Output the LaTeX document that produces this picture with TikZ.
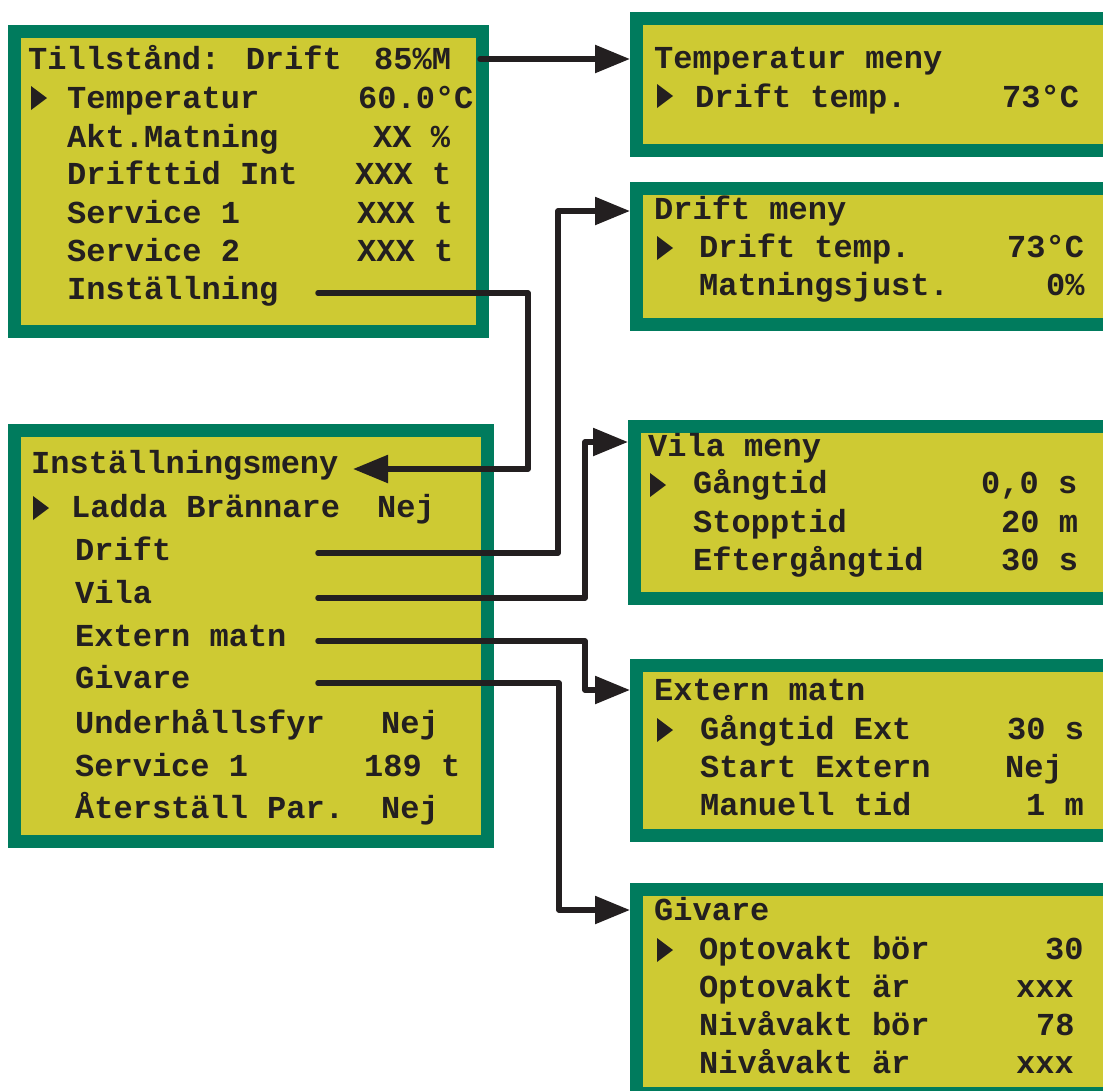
\documentclass[tikz,border=0pt]{standalone}
\usepackage{fontspec}
\newfontfamily\lcdfont{Liberation Mono}
\usetikzlibrary{arrows.meta}
\definecolor{lcdgreen}{RGB}{0, 123, 93}
\definecolor{lcdyellow}{RGB}{206, 202, 51}
\definecolor{ink}{RGB}{35, 31, 32}
% cursor marker in front of the selected row
\newcommand{\cursor}[2]{\fill[ink] (#1,#2-12) -- (#1+16,#2) -- (#1,#2+12) -- cycle;}

\begin{document}
\begin{tikzpicture}[x=1pt, y=-1pt,
    lcd/.style={draw=lcdgreen, fill=lcdyellow, line width=13pt, inner sep=0pt, anchor=north west},
    txt/.style={anchor=base west, inner sep=0pt, text=ink,
                font=\lcdfont\bfseries\fontsize{32}{36}\selectfont},
    link/.style={draw=ink, line width=5.5pt, line cap=round, line join=round,
                 -{Triangle[length=35pt, width=27pt]}}]
    \clip (0,0) rectangle (1103,1090);

    % screens
    \node[lcd, minimum width=468pt, minimum height=300pt] (main) at (8,25) {};
    \node[lcd, minimum width=473pt, minimum height=411pt] (inst) at (8,424) {};
    \node[lcd, minimum width=477pt, minimum height=132pt] (temp) at (630,12) {};
    \node[lcd, minimum width=477pt, minimum height=136pt] (drift) at (630,182) {};
    \node[lcd, minimum width=479pt, minimum height=172pt] (vila) at (628,420) {};
    \node[lcd, minimum width=477pt, minimum height=170pt] (ext) at (630,659) {};
    \node[lcd, minimum width=477pt, minimum height=204pt] (giv) at (630,883) {};

    % main screen
    \node[txt] (main-t) at (28,69) {Tillstånd: Drift};
    \node[txt] (main-tv) at (374,69) {85\%M};
    \foreach \n/\yy/\lab/\vx/\val in {1/108/Temperatur/358/60.0°C, 2/147/Akt.Matning/373/XX \%,
        3/184/Drifttid Int/355/XXX t, 4/223/Service 1/357/XXX t, 5/261/Service 2/357/XXX t}{
        \node[txt] (main-l\n) at (67,\yy) {\lab};
        \node[txt] (main-v\n) at (\vx,\yy) {\val};
    }
    \node[txt] (main-l6) at (67,299) {Inställning};
    \cursor{31}{98}

    % settings screen
    \node[txt] (inst-t) at (31,473) {Inställningsmeny};
    \node[txt] (inst-l1) at (71,517) {Ladda Brännare};
    \node[txt] (inst-v1) at (377,517) {Nej};
    \foreach \n/\yy/\lab in {2/560/Drift, 3/603/Vila, 4/646/Extern matn, 5/688/Givare}{
        \node[txt] (inst-l\n) at (75,\yy) {\lab};
    }
    \foreach \n/\yy/\lab/\vx/\val in {6/733/Underhållsfyr/381/Nej, 7/776/Service 1/364/189 t,
        8/818/Återställ Par./381/Nej}{
        \node[txt] (inst-l\n) at (75,\yy) {\lab};
        \node[txt] (inst-v\n) at (\vx,\yy) {\val};
    }
    \cursor{33}{508}

    % temperature screen
    \node[txt] (temp-t) at (654,68) {Temperatur meny};
    \node[txt] (temp-l1) at (695,107) {Drift temp.};
    \node[txt] (temp-v1) at (1002,107) {73°C};
    \cursor{657}{96}

    % drift screen
    \node[txt] (drift-t) at (654,219) {Drift meny};
    \node[txt] (drift-l1) at (699,257) {Drift temp.};
    \node[txt] (drift-v1) at (1007,257) {73°C};
    \node[txt] (drift-l2) at (699,295) {Matningsjust.};
    \node[txt] (drift-v2) at (1046,295) {0\%};
    \cursor{657}{248}

    % vila screen
    \node[txt] (vila-t) at (648,456) {Vila meny};
    \foreach \n/\yy/\lab/\vx/\val in {1/493/Gångtid/981/{0,0 s}, 2/532/Stopptid/1001/20 m,
        3/570/Eftergångtid/1001/30 s}{
        \node[txt] (vila-l\n) at (693,\yy) {\lab};
        \node[txt] (vila-v\n) at (\vx,\yy) {\val};
    }
    \cursor{650}{485}

    % extern screen
    \node[txt] (ext-t) at (654,700) {Extern matn};
    \foreach \n/\yy/\lab/\vx/\val in {1/739/Gångtid Ext/1007/30 s, 2/777/Start Extern/1005/Nej,
        3/815/Manuell tid/1026/1 m}{
        \node[txt] (ext-l\n) at (700,\yy) {\lab};
        \node[txt] (ext-v\n) at (\vx,\yy) {\val};
    }
    \cursor{657}{730}

    % givare screen
    \node[txt] (giv-t) at (654,920) {Givare};
    \foreach \n/\yy/\lab/\vx/\val in {1/959/Optovakt bör/1045/30, 2/997/Optovakt är/1016/xxx,
        3/1035/Nivåvakt bör/1036/78, 4/1073/Nivåvakt är/1016/xxx}{
        \node[txt] (giv-l\n) at (699,\yy) {\lab};
        \node[txt] (giv-v\n) at (\vx,\yy) {\val};
    }
    \cursor{657}{950}

    % connectors
    \coordinate (s-top) at (480,59);
    \coordinate (s-inst) at (318,293);
    \coordinate (e-inst) at (353,469);
    \coordinate (s-drift) at (318,553);
    \coordinate (s-vila) at (318,598);
    \coordinate (s-ext) at (318,641);
    \coordinate (s-giv) at (318,683);
    \draw[link] (s-top) -- ([yshift=-47pt]temp.north west);
    \draw[link] (s-inst) -- ++(210,0) |- (e-inst);
    \draw[link] (s-drift) -- ++(240,0) |- ([yshift=-29pt]drift.north west);
    \draw[link] (s-vila) -- ++(267,0) |- ([yshift=-22pt]vila.north west);
    \draw[link] (s-ext) -- ++(267,0) |- ([yshift=-31pt]ext.north west);
    \draw[link] (s-giv) -- ++(241,0) |- ([yshift=-27pt]giv.north west);
\end{tikzpicture}
\end{document}
